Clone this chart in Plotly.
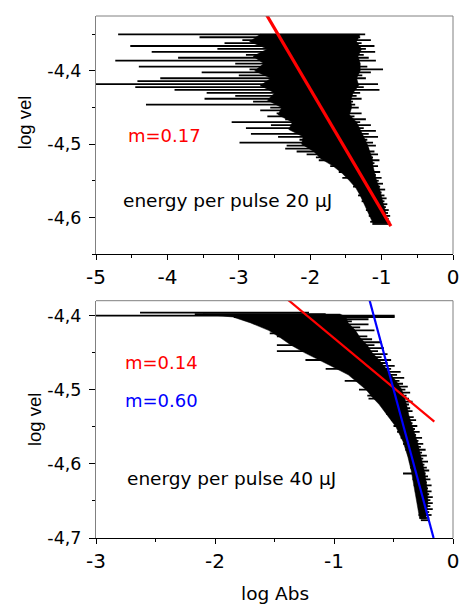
import plotly.graph_objects as go
from plotly.subplots import make_subplots

# ---------------- data ----------------
# Top panel (20 uJ): horizontal segments, one per log vel level
top_y = [-4.350, -4.354, -4.358, -4.362, -4.366, -4.370, -4.374, -4.378, -4.382, -4.386,
         -4.390, -4.394, -4.398, -4.402, -4.406, -4.410, -4.414, -4.418, -4.422, -4.426,
         -4.430, -4.434, -4.438, -4.442, -4.446, -4.450, -4.454, -4.458, -4.462, -4.466,
         -4.470, -4.474, -4.478, -4.482, -4.486, -4.490, -4.494, -4.498, -4.502, -4.506,
         -4.510, -4.514, -4.518, -4.522, -4.526, -4.530, -4.534, -4.538, -4.542, -4.546,
         -4.550, -4.554, -4.558, -4.562, -4.566, -4.570, -4.574, -4.578, -4.582, -4.586,
         -4.590, -4.594, -4.598, -4.602, -4.606, -4.609]
top_xl = [-4.69, -3.55, -2.95, -3.20, -4.52, -3.30, -4.22, -2.90, -3.85, -4.73,
          -3.05, -4.40, -2.85, -3.52, -3.00, -4.10, -4.42, -5.00, -4.45, -3.90,
          -3.45, -3.05, -3.48, -2.80, -4.30, -2.56, -2.70, -2.47, -2.60, -2.35,
          -3.10, -2.55, -2.90, -2.20, -2.83, -2.45, -2.15, -2.99, -2.33, -2.35,
          -2.19, -2.05, -1.92, -1.88, -1.69, -1.72, -1.55, -1.60, -1.45, -1.55,
          -1.42, -1.37, -1.40, -1.30, -1.28, -1.33, -1.24, -1.28, -1.23, -1.20,
          -1.22, -1.16, -1.18, -1.13, -1.16, -1.13]
top_xr = [-1.23, -1.30, -1.15, -1.28, -1.10, -1.22, -1.09, -1.25, -1.18, -1.08,
          -1.30, -1.20, -0.98, -1.15, -1.27, -1.22, -1.35, -1.05, -1.25, -1.03,
          -1.30, -1.35, -1.28, -1.40, -1.37, -1.32, -1.45, -1.28, -1.38, -1.22,
          -1.30, -1.15, -1.25, -1.08, -1.18, -1.05, -1.20, -1.12, -1.08, -1.18,
          -1.10, -1.05, -1.12, -1.03, -1.10, -1.05, -1.12, -1.02, -1.08, -1.00,
          -1.04, -0.98, -1.02, -0.95, -1.00, -0.96, -0.93, -0.96, -0.92, -0.94,
          -0.90, -0.91, -0.88, -0.90, -0.88, -0.90]
# solid core of the top band (where the segments overlap completely)
top_core_y = [-4.350, -4.360, -4.370, -4.380, -4.390, -4.400, -4.410, -4.420, -4.430,
              -4.440, -4.450, -4.460, -4.470, -4.480, -4.490, -4.500, -4.510, -4.520,
              -4.530, -4.540, -4.550, -4.560, -4.570, -4.580, -4.590, -4.600, -4.608]
top_core_xl = [-2.70, -2.85, -2.60, -2.80, -2.65, -2.78, -2.55, -2.70, -2.50,
               -2.60, -2.40, -2.45, -2.25, -2.30, -2.10, -2.12, -1.95, -1.85,
               -1.68, -1.55, -1.45, -1.36, -1.30, -1.25, -1.20, -1.16, -1.12]
top_core_xr = [-1.30, -1.35, -1.28, -1.33, -1.30, -1.30, -1.35, -1.32, -1.40,
               -1.43, -1.42, -1.45, -1.35, -1.30, -1.25, -1.20, -1.16, -1.13,
               -1.12, -1.10, -1.07, -1.03, -1.00, -0.98, -0.95, -0.93, -0.92]

# Bottom panel (40 uJ)
bot_y = [-4.396, -4.398, -4.400, -4.402, -4.405, -4.408, -4.412, -4.416, -4.420, -4.424,
         -4.428, -4.432, -4.436, -4.440, -4.444, -4.448, -4.452, -4.456, -4.460, -4.464,
         -4.468, -4.472, -4.476, -4.480, -4.484, -4.488, -4.492, -4.496, -4.500, -4.504,
         -4.508, -4.512, -4.516, -4.520, -4.525, -4.529, -4.533, -4.537, -4.541, -4.545,
         -4.549, -4.553, -4.557, -4.561, -4.565, -4.569, -4.573, -4.577, -4.581, -4.585,
         -4.589, -4.593, -4.597, -4.601, -4.605, -4.609, -4.613, -4.617, -4.621, -4.625,
         -4.629, -4.633, -4.637, -4.641, -4.645, -4.649, -4.653, -4.657, -4.661, -4.665,
         -4.669, -4.673, -4.676]
bot_xl = [-2.63, -2.17, -3.00, -1.84, -1.76, -1.68, -1.62, -1.51, -1.47, -1.54,
          -1.48, -1.21, -1.35, -1.48, -1.26, -1.48, -1.18, -1.07, -1.24, -1.02,
          -0.93, -1.07, -0.85, -0.80, -0.83, -0.91, -0.74, -0.69, -0.79, -0.66,
          -0.72, -0.71, -0.63, -0.60, -0.58, -0.53, -0.56, -0.50, -0.52, -0.48,
          -0.50, -0.45, -0.47, -0.43, -0.44, -0.41, -0.42, -0.39, -0.40, -0.37,
          -0.38, -0.36, -0.37, -0.35, -0.36, -0.34, -0.42, -0.33, -0.34, -0.32,
          -0.33, -0.31, -0.32, -0.30, -0.31, -0.29, -0.30, -0.28, -0.29, -0.28,
          -0.29, -0.28, -0.27]
bot_xr = [-1.21, -1.07, -0.49, -0.49, -0.71, -0.85, -0.71, -0.78, -0.66, -0.87,
          -0.72, -0.68, -0.60, -0.66, -0.58, -0.63, -0.55, -0.60, -0.52, -0.55,
          -0.49, -0.52, -0.44, -0.47, -0.41, -0.45, -0.42, -0.38, -0.40, -0.36,
          -0.39, -0.37, -0.34, -0.37, -0.36, -0.34, -0.38, -0.33, -0.31, -0.34,
          -0.30, -0.32, -0.28, -0.31, -0.26, -0.29, -0.25, -0.27, -0.23, -0.26,
          -0.22, -0.25, -0.21, -0.24, -0.22, -0.20, -0.23, -0.21, -0.19, -0.22,
          -0.18, -0.21, -0.18, -0.20, -0.17, -0.19, -0.17, -0.19, -0.17, -0.20,
          -0.18, -0.20, -0.21]
bot_core_y = [-4.398, -4.402, -4.410, -4.420, -4.430, -4.440, -4.450, -4.460, -4.470,
              -4.480, -4.490, -4.500, -4.510, -4.520, -4.535, -4.550, -4.570, -4.590,
              -4.610, -4.630, -4.650, -4.665, -4.674]
bot_core_xl = [-2.10, -1.85, -1.70, -1.55, -1.45, -1.36, -1.25, -1.12, -1.00,
               -0.88, -0.80, -0.73, -0.68, -0.62, -0.55, -0.48, -0.42, -0.38,
               -0.35, -0.33, -0.31, -0.29, -0.28]
bot_core_xr = [-0.95, -0.90, -0.88, -0.82, -0.78, -0.72, -0.68, -0.62, -0.57,
               -0.52, -0.47, -0.43, -0.41, -0.39, -0.37, -0.34, -0.30, -0.27,
               -0.24, -0.22, -0.21, -0.22, -0.23]

# linear fits (end points on fitted lines)
top_fit_x = [-2.62, -0.87]
top_fit_y = [-4.322, -4.612]
bot_red_x = [-1.40, -0.157]
bot_red_y = [-4.377, -4.543]
bot_blue_x = [-0.70, -0.163]
bot_blue_y = [-4.380, -4.700]

top_xticks = [-5, -4, -3, -2, -1, 0]
top_xticktext = ["-5", "-4", "-3", "-2", "-1", "0"]
top_yticks = [-4.6, -4.5, -4.4]
top_yticktext = ["-4,6", "-4,5", "-4,4"]
bot_xticks = [-3, -2, -1, 0]
bot_xticktext = ["-3", "-2", "-1", "0"]
bot_yticks = [-4.7, -4.6, -4.5, -4.4]
bot_yticktext = ["-4,7", "-4,6", "-4,5", "-4,4"]


def segments(ys, xls, xrs):
    xs, yy = [], []
    for y, a, b in zip(ys, xls, xrs):
        xs += [a, b, None]
        yy += [y, y, None]
    return xs, yy


def core(ys, xls, xrs):
    xs = list(xls) + list(reversed(xrs))
    yy = list(ys) + list(reversed(ys))
    return xs + [xs[0]], yy + [yy[0]]


FONT = "DejaVu Sans, sans-serif"
FONT_V = "Liberation Sans, Arial, sans-serif"
W, H = 468, 604
ML, MR, MT, MB = 96, 9, 16, 66
PH = H - MT - MB  # plot height in px

fig = make_subplots(rows=2, cols=1, vertical_spacing=0.0)

cx, cy = core(top_core_y, top_core_xl, top_core_xr)
fig.add_trace(go.Scatter(x=cx, y=cy, mode="lines", fill="toself", fillcolor="black",
                         line=dict(color="black", width=0.5), showlegend=False,
                         hoverinfo="skip"), row=1, col=1)
sx, sy = segments(top_y, top_xl, top_xr)
fig.add_trace(go.Scatter(x=sx, y=sy, mode="lines", line=dict(color="black", width=1.8),
                         showlegend=False, hoverinfo="skip"), row=1, col=1)
fig.add_trace(go.Scatter(x=top_fit_x, y=top_fit_y, mode="lines",
                         line=dict(color="#ff0000", width=3.2), showlegend=False), row=1, col=1)

cx, cy = core(bot_core_y, bot_core_xl, bot_core_xr)
fig.add_trace(go.Scatter(x=cx, y=cy, mode="lines", fill="toself", fillcolor="black",
                         line=dict(color="black", width=0.5), showlegend=False,
                         hoverinfo="skip"), row=2, col=1)
sx, sy = segments(bot_y, bot_xl, bot_xr)
fig.add_trace(go.Scatter(x=sx, y=sy, mode="lines", line=dict(color="black", width=1.8),
                         showlegend=False, hoverinfo="skip"), row=2, col=1)
fig.add_trace(go.Scatter(x=bot_red_x, y=bot_red_y, mode="lines",
                         line=dict(color="#ff0000", width=2.2), showlegend=False), row=2, col=1)
fig.add_trace(go.Scatter(x=bot_blue_x, y=bot_blue_y, mode="lines",
                         line=dict(color="#0000ff", width=2.2), showlegend=False), row=2, col=1)


def dom(top_px, bot_px):
    # convert pixel rows inside plot area to domain fraction
    return [(H - MB - bot_px) / PH, (H - MB - top_px) / PH]


xaxis_common = dict(showgrid=False, zeroline=False, ticks="outside", tickcolor="black",
                    ticklen=5, linecolor="black", linewidth=1, showline=True,
                    tickfont=dict(family=FONT, size=20, color="black"),
                    minor=dict(ticks="outside", ticklen=3, tickcolor="black", dtick=0.5))
yaxis_common = dict(showgrid=False, zeroline=False, ticks="outside", tickcolor="black",
                    ticklen=6, linecolor="#808080", linewidth=1, showline=True,
                    ticklabelstandoff=4,
                    tickfont=dict(family=FONT, size=17.5, color="black"),
                    minor=dict(ticks="outside", ticklen=3, tickcolor="black",
                               dtick=0.05, tick0=-4.35))

fig.update_layout(
    width=W, height=H,
    margin=dict(l=ML, r=MR, t=MT, b=MB),
    paper_bgcolor="white", plot_bgcolor="white",
    font=dict(family=FONT, color="black"),
    xaxis=dict(domain=[0, 1], range=[-5, 0], tickvals=top_xticks, ticktext=top_xticktext,
               **xaxis_common),
    yaxis=dict(domain=dom(16, 254), range=[-4.65, -4.325], tickvals=top_yticks,
               ticktext=top_yticktext, **yaxis_common),
    xaxis2=dict(domain=[0, 1], range=[-3, 0], tickvals=bot_xticks, ticktext=bot_xticktext,
                **xaxis_common),
    yaxis2=dict(domain=dom(300.7, 538), range=[-4.7, -4.38], tickvals=bot_yticks,
                ticktext=bot_yticktext, **yaxis_common),
)

# gray frame (top and right edges)
for xr, yr in (("x domain", "y domain"), ("x2 domain", "y2 domain")):
    fig.add_shape(type="line", xref=xr, yref=yr, x0=0, x1=1, y0=1, y1=1,
                  line=dict(color="#808080", width=1))
    fig.add_shape(type="line", xref=xr, yref=yr, x0=1, x1=1, y0=0, y1=1,
                  line=dict(color="#808080", width=1))


def paper_x(px):
    return (px - ML) / (W - ML - MR)


def paper_y(py):
    return (H - MB - py) / PH


ann = [
    dict(text="m=0.17", x=-4.58, y=-4.488, xref="x", yref="y", color="#ff0000", size=18),
    dict(text="energy per pulse 20 \u03bcJ", x=-4.65, y=-4.577, xref="x", yref="y",
         color="black", size=18.5),
    dict(text="m=0.14", x=-2.77, y=-4.4635, xref="x2", yref="y2", color="#ff0000", size=18),
    dict(text="m=0.60", x=-2.77, y=-4.514, xref="x2", yref="y2", color="#0000ff", size=18),
    dict(text="energy per pulse 40 \u03bcJ", x=-2.755, y=-4.62, xref="x2", yref="y2",
         color="black", size=18.5),
]
for a in ann:
    fig.add_annotation(text=a["text"], x=a["x"], y=a["y"], xref=a["xref"], yref=a["yref"],
                       xanchor="left", yanchor="middle", showarrow=False,
                       font=dict(family=FONT, size=a["size"], color=a["color"]))

# axis titles
fig.add_annotation(text="log vel", x=paper_x(24), y=paper_y(123), xref="paper", yref="paper",
                   textangle=-90, showarrow=False, xanchor="center", yanchor="middle",
                   font=dict(family=FONT_V, size=18.5, color="black"))
fig.add_annotation(text="log vel", x=paper_x(33), y=paper_y(420), xref="paper", yref="paper",
                   textangle=-90, showarrow=False, xanchor="center", yanchor="middle",
                   font=dict(family=FONT_V, size=18.5, color="black"))
fig.add_annotation(text="log Abs", x=paper_x(278), y=paper_y(581), xref="paper", yref="paper",
                   showarrow=False, xanchor="center", yanchor="top",
                   font=dict(family=FONT, size=18.5, color="black"))

fig.write_html("out.html", config={"displayModeBar": False},
               post_script="document.body.style.margin='0';")
